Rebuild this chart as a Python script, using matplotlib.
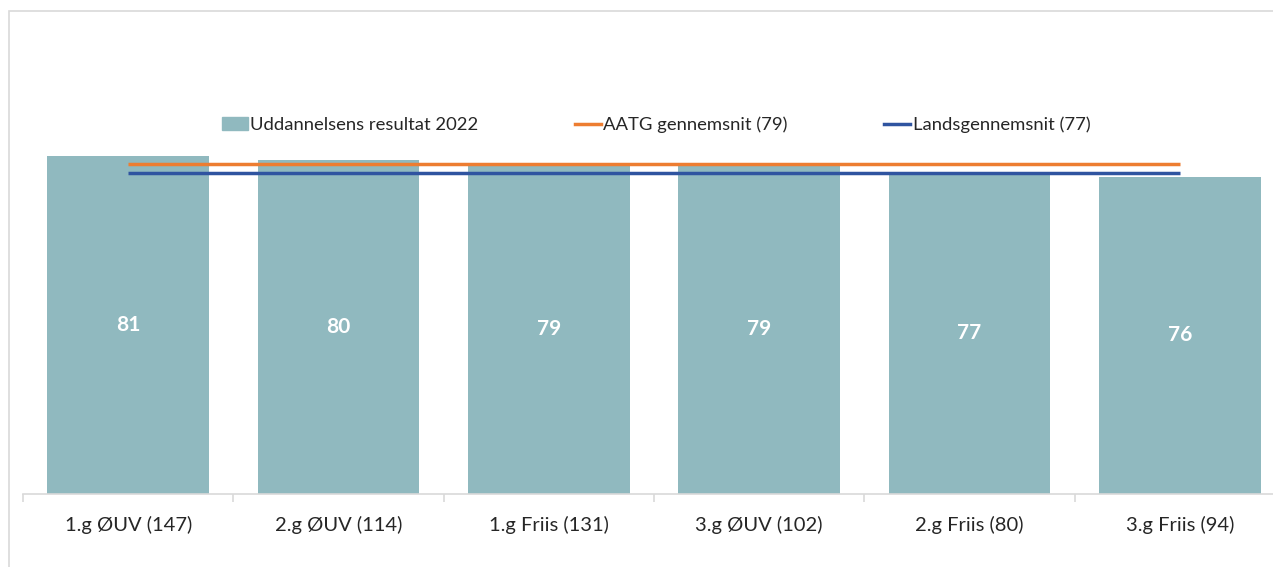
import matplotlib
matplotlib.use("Agg")
import matplotlib.pyplot as plt
from matplotlib.patches import Rectangle
from matplotlib.lines import Line2D
from matplotlib.patches import Patch

categories = ["1.g ØUV (147)", "2.g ØUV (114)", "1.g Friis (131)", "3.g ØUV (102)", "2.g Friis (80)", "3.g Friis (94)"]
results = [81, 80, 79, 79, 77, 76]
aatg_avg = [79, 79, 79, 79, 79, 79]
national_avg = [77, 77, 77, 77, 77, 77]
series_names = ["Uddannelsens resultat 2022", "AATG gennemsnit (79)", "Landsgennemsnit (77)"]

W, H = 1273, 567
fig = plt.figure(figsize=(W / 100, H / 100), dpi=100)
plt.rcParams['font.family'] = ['Lato', 'DejaVu Sans']

# outer chart border (cropped at right/bottom)
fig.patches.append(Rectangle((9 / W, -0.1), 1.2, 1 - 11 / H + 0.1, transform=fig.transFigure,
                             fill=False, edgecolor="#D9D9D9", linewidth=1.2))

left, right = 23, 1285
bottom_px, top_px = 494, 74
ax = fig.add_axes([left / W, 1 - bottom_px / H, (right - left) / W, (bottom_px - top_px) / H])

bar_color = "#90B9BF"
x = list(range(len(categories)))
bars = ax.bar(x, results, width=0.77, color=bar_color, zorder=2)
ax.plot(x, aatg_avg, color="#ED7D31", linewidth=2.5, zorder=3, solid_capstyle="butt")
ax.plot(x, national_avg, color="#2F54A0", linewidth=2.5, zorder=3, solid_capstyle="butt")

for xi, v in zip(x, results):
    ax.text(xi, v / 2, f"{v}", ha="center", va="center", color="white",
            fontsize=15, fontweight="bold", zorder=4)

ax.set_xlim(-0.5, len(categories) - 0.5)
ax.set_ylim(0, 100.6)
ax.set_yticks([])
for s in ["top", "right", "left"]:
    ax.spines[s].set_visible(False)
ax.spines["bottom"].set_color("#D9D9D9")
ax.spines["bottom"].set_linewidth(1.2)

ax.set_xticks(x)
ax.set_xticklabels(categories, fontsize=14.5, color="#262626")
ax.tick_params(axis="x", which="major", length=0, pad=16)
ax.set_xticks([i - 0.5 for i in range(len(categories) + 1)], minor=True)
ax.tick_params(axis="x", which="minor", length=6, color="#D9D9D9", width=1.2)

handles = [Patch(color=bar_color),
           Line2D([0], [0], color="#ED7D31", linewidth=2.5),
           Line2D([0], [0], color="#2F54A0", linewidth=2.5)]
leg = fig.legend(handles, series_names, loc="center", bbox_to_anchor=(656 / W, 1 - 125 / H),
                 ncol=3, frameon=False, fontsize=13.3, handlelength=1.4, handletextpad=0.15,
                 columnspacing=5.2, labelcolor="#262626")

fig.savefig("out.png", dpi=100)
